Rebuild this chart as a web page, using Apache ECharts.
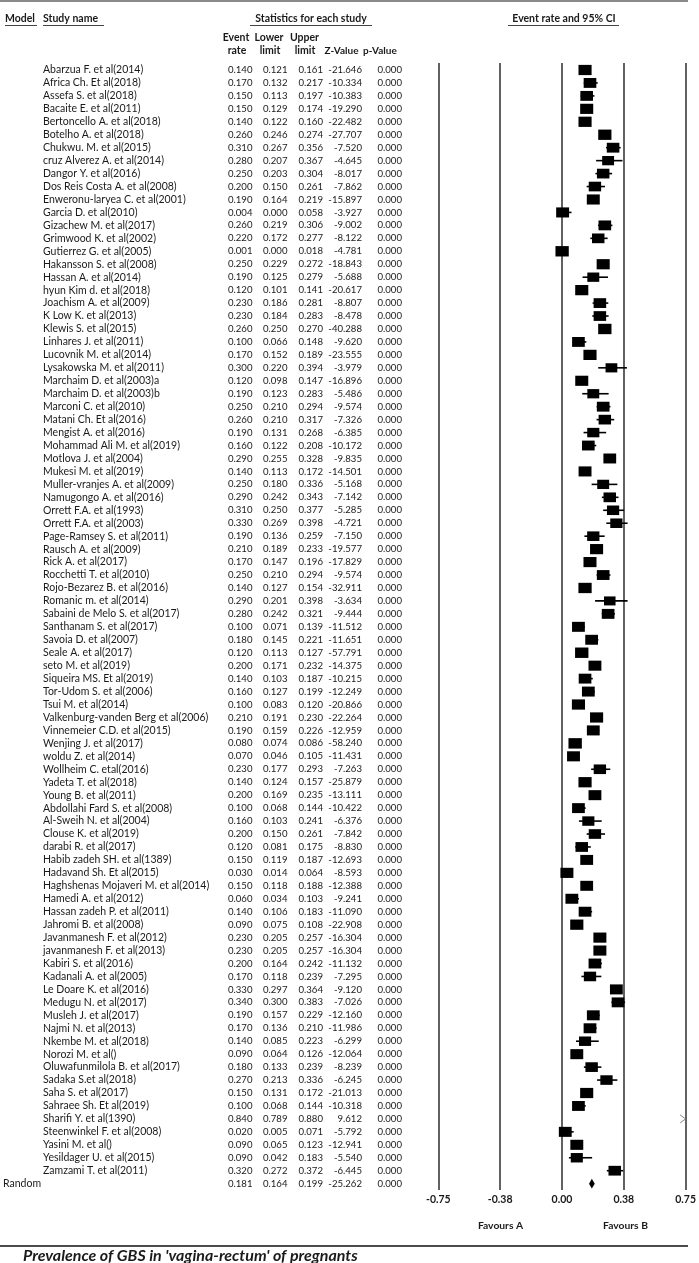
<!DOCTYPE html>
<html>
<head>
<meta charset="utf-8">
<script src="https://cdn.jsdelivr.net/npm/echarts@6/dist/echarts.min.js"></script>
<style>
html,body{margin:0;padding:0;background:#fff;}
#chart{width:699px;height:1263px;}
</style>
</head>
<body>
<div id="chart"></div>
<script>
const studies = [
"Abarzua F. et al(2014)","Africa Ch. Et al(2018)","Assefa S. et al(2018)","Bacaite E. et al(2011)",
"Bertoncello A. et al(2018)","Botelho A. et al(2018)","Chukwu. M. et al(2015)","cruz Alverez A. et al(2014)",
"Dangor Y. et al(2016)","Dos Reis Costa A. et al(2008)","Enweronu-laryea C. et al(2001)","Garcia D. et al(2010)",
"Gizachew M. et al(2017)","Grimwood K. et al(2002)","Gutierrez G. et al(2005)","Hakansson S. et al(2008)",
"Hassan A. et al(2014)","hyun Kim d. et al(2018)","Joachism A. et al(2009)","K Low K. et al(2013)",
"Klewis S. et al(2015)","Linhares J. et al(2011)","Lucovnik M. et al(2014)","Lysakowska M. et al(2011)",
"Marchaim D. et al(2003)a","Marchaim D. et al(2003)b","Marconi C. et al(2010)","Matani Ch. Et al(2016)",
"Mengist A. et al(2016)","Mohammad Ali M. et al(2019)","Motlova J. et al(2004)","Mukesi M. et al(2019)",
"Muller-vranjes A. et al(2009)","Namugongo A. et al(2016)","Orrett F.A. et al(1993)","Orrett F.A. et al(2003)",
"Page-Ramsey S. et al(2011)","Rausch A. et al(2009)","Rick A. et al(2017)","Rocchetti T. et al(2010)",
"Rojo-Bezarez B. et al(2016)","Romanic m. et al(2014)","Sabaini de Melo S. et al(2017)","Santhanam S. et al(2017)",
"Savoia D. et al(2007)","Seale A. et al(2017)","seto M. et al(2019)","Siqueira MS. Et al(2019)",
"Tor-Udom S. et al(2006)","Tsui M. et al(2014)","Valkenburg-vanden Berg et al(2006)","Vinnemeier C.D. et al(2015)",
"Wenjing J. et al(2017)","woldu Z. et al(2014)","Wollheim C. etal(2016)","Yadeta T. et al(2018)",
"Young B. et al(2011)","Abdollahi Fard S. et al(2008)","Al-Sweih N. et al(2004)","Clouse K. et al(2019)",
"darabi R. et al(2017)","Habib zadeh SH. et al(1389)","Hadavand Sh. Et al(2015)","Haghshenas Mojaveri M. et al(2014)",
"Hamedi A. et al(2012)","Hassan zadeh P. et al(2011)","Jahromi B. et al(2008)","Javanmanesh F. et al(2012)",
"javanmanesh F. et al(2013)","Kabiri S. et al(2016)","Kadanali A. et al(2005)","Le Doare K. et al(2016)",
"Medugu N. et al(2017)","Musleh J. et al(2017)","Najmi N. et al(2013)","Nkembe M. et al(2018)",
"Norozi M. et al()","Oluwafunmilola B. et al(2017)","Sadaka S.et al(2018)","Saha S. et al(2017)",
"Sahraee Sh. Et al(2019)","Sharifi Y. et al(1390)","Steenwinkel F. et al(2008)","Yasini M. et al()",
"Yesildager U. et al(2015)","Zamzami T. et al(2011)"
];
const eventRate = [
0.140,0.170,0.150,0.150,0.140,0.260,0.310,0.280,0.250,0.200,0.190,0.004,0.260,0.220,0.001,0.250,
0.190,0.120,0.230,0.230,0.260,0.100,0.170,0.300,0.120,0.190,0.250,0.260,0.190,0.160,0.290,0.140,
0.250,0.290,0.310,0.330,0.190,0.210,0.170,0.250,0.140,0.290,0.280,0.100,0.180,0.120,0.200,0.140,
0.160,0.100,0.210,0.190,0.080,0.070,0.230,0.140,0.200,0.100,0.160,0.200,0.120,0.150,0.030,0.150,
0.060,0.140,0.090,0.230,0.230,0.200,0.170,0.330,0.340,0.190,0.170,0.140,0.090,0.180,0.270,0.150,
0.100,0.840,0.020,0.090,0.090,0.320
];
const lowerLimit = [
0.121,0.132,0.113,0.129,0.122,0.246,0.267,0.207,0.203,0.150,0.164,0.000,0.219,0.172,0.000,0.229,
0.125,0.101,0.186,0.184,0.250,0.066,0.152,0.220,0.098,0.123,0.210,0.210,0.131,0.122,0.255,0.113,
0.180,0.242,0.250,0.269,0.136,0.189,0.147,0.210,0.127,0.201,0.242,0.071,0.145,0.113,0.171,0.103,
0.127,0.083,0.191,0.159,0.074,0.046,0.177,0.124,0.169,0.068,0.103,0.150,0.081,0.119,0.014,0.118,
0.034,0.106,0.075,0.205,0.205,0.164,0.118,0.297,0.300,0.157,0.136,0.085,0.064,0.133,0.213,0.131,
0.068,0.789,0.005,0.065,0.042,0.272
];
const upperLimit = [
0.161,0.217,0.197,0.174,0.160,0.274,0.356,0.367,0.304,0.261,0.219,0.058,0.306,0.277,0.018,0.272,
0.279,0.141,0.281,0.283,0.270,0.148,0.189,0.394,0.147,0.283,0.294,0.317,0.268,0.208,0.328,0.172,
0.336,0.343,0.377,0.398,0.259,0.233,0.196,0.294,0.154,0.398,0.321,0.139,0.221,0.127,0.232,0.187,
0.199,0.120,0.230,0.226,0.086,0.105,0.293,0.157,0.235,0.144,0.241,0.261,0.175,0.187,0.064,0.188,
0.103,0.183,0.108,0.257,0.257,0.242,0.239,0.364,0.383,0.229,0.210,0.223,0.126,0.239,0.336,0.172,
0.144,0.880,0.071,0.123,0.183,0.372
];
const zValue = [
-21.646,-10.334,-10.383,-19.290,-22.482,-27.707,-7.520,-4.645,-8.017,-7.862,-15.897,-3.927,-9.002,-8.122,-4.781,-18.843,
-5.688,-20.617,-8.807,-8.478,-40.288,-9.620,-23.555,-3.979,-16.896,-5.486,-9.574,-7.326,-6.385,-10.172,-9.835,-14.501,
-5.168,-7.142,-5.285,-4.721,-7.150,-19.577,-17.829,-9.574,-32.911,-3.634,-9.444,-11.512,-11.651,-57.791,-14.375,-10.215,
-12.249,-20.866,-22.264,-12.959,-58.240,-11.431,-7.263,-25.879,-13.111,-10.422,-6.376,-7.842,-8.830,-12.693,-8.593,-12.388,
-9.241,-11.090,-22.908,-16.304,-16.304,-11.132,-7.295,-9.120,-7.026,-12.160,-11.986,-6.299,-12.064,-8.239,-6.245,-21.013,
-10.318,9.612,-5.792,-12.941,-5.540,-6.445
];
const pValue = studies.map(() => 0.000); // every study reports p = 0.000
const pooledLabel = "Random";
const pooledRate = 0.181, pooledLower = 0.164, pooledUpper = 0.199, pooledZ = -25.262, pooledP = 0.000;
const xTickLabels = ["-0.75","-0.38","0.00","0.38","0.75"];

const FONT = 'Lato, "Liberation Sans", sans-serif';
const TXT = '#1a1a1a';
const TFS = '10.5px ';
const NFS = '9.6px ';

const chart = echarts.init(document.getElementById('chart'), null, {renderer: 'canvas'});

const tableRows = studies.map((s, i) => [i, s, eventRate[i], lowerLimit[i], upperLimit[i], zValue[i], pValue[i]]);
tableRows.push([studies.length, pooledLabel, pooledRate, pooledLower, pooledUpper, pooledZ, pooledP]);

const XMIN = -0.75, XMAX = 0.75;
const hdr = (text, x, y, align, fs) => ({type: 'text', style: {text, x, y, textAlign: align || 'center', textVerticalAlign: 'middle', font: 'bold ' + (fs || TFS) + FONT, fill: TXT}});

const option = {
  animation: false,
  backgroundColor: '#fff',
  grid: [
    {left: 438.3, width: 250.4, top: 63, height: 1127},
    {left: 0, width: 699, top: 63, height: 1127}
  ],
  xAxis: [
    {gridIndex: 0, type: 'value', min: XMIN, max: XMAX, interval: 0.375,
     axisLine: {show: false}, axisTick: {show: false},
     splitLine: {show: true, showMinLine: true, showMaxLine: true, lineStyle: {color: '#3a3a3a', width: 1.6}},
     axisLabel: {margin: 4, fontFamily: FONT, fontSize: 10.5, fontWeight: 'bold', color: TXT,
       formatter: v => { const idx = Math.round((v - XMIN) / 0.375); return xTickLabels[idx]; }}},
    {gridIndex: 1, type: 'value', min: 0, max: 699, show: false}
  ],
  yAxis: [
    {gridIndex: 0, type: 'value', min: -0.54, max: 86.49, inverse: true, show: false},
    {gridIndex: 1, type: 'value', min: -0.54, max: 86.49, inverse: true, show: false}
  ],
  series: [
    {
      type: 'custom', xAxisIndex: 0, yAxisIndex: 0, clip: false,
      data: studies.map((s, i) => [eventRate[i], i, lowerLimit[i], upperLimit[i]]),
      encode: {x: 0, y: 1},
      renderItem: (params, api) => {
        const r = api.value(0), i = api.value(1), lo = api.value(2), hi = api.value(3);
        const y = api.coord([0, i])[1];
        const children = [];
        if (r > XMAX) {
          const tip = api.coord([XMAX, i]);
          children.push({type: 'polyline', shape: {points: [[tip[0] - 5.5, y - 4], [tip[0], y], [tip[0] - 5.5, y + 4]]},
            style: {stroke: '#777', lineWidth: 0.9, fill: null}});
          return {type: 'group', children};
        }
        const loC = api.coord([Math.max(lo, XMIN), i])[0];
        const hiC = api.coord([Math.min(hi, XMAX), i])[0];
        children.push({type: 'line', shape: {x1: loC, y1: y, x2: hiC, y2: y}, style: {stroke: '#000', lineWidth: 1.6}});
        const cx = api.coord([r, i])[0];
        const w = Math.max(11.5, 13.5 - 10 * (hi - lo));
        const h = w * 0.78;
        children.push({type: 'rect', shape: {x: cx - w / 2, y: y - h / 2, width: w, height: h}, style: {fill: '#000'}});
        return {type: 'group', children};
      }
    },
    {
      type: 'custom', xAxisIndex: 0, yAxisIndex: 0, clip: false,
      data: [[pooledRate, studies.length, pooledLower, pooledUpper]],
      encode: {x: 0, y: 1},
      renderItem: (params, api) => {
        const r = api.value(0), i = api.value(1), lo = api.value(2), hi = api.value(3);
        const c = api.coord([r, i]);
        const l = api.coord([lo, i])[0], u = api.coord([hi, i])[0];
        return {type: 'polygon', shape: {points: [[l, c[1]], [c[0], c[1] - 4.8], [u, c[1]], [c[0], c[1] + 4.8]]}, style: {fill: '#000'}};
      }
    },
    {
      type: 'custom', xAxisIndex: 1, yAxisIndex: 1, clip: false,
      data: tableRows.map(r => [0, r[0]]),
      encode: {x: 0, y: 1},
      renderItem: (params, api) => {
        const row = tableRows[params.dataIndex];
        const y = api.coord([0, row[0]])[1];
        const isPooled = row[0] === studies.length;
        const st = (text, x, align, fs) => ({type: 'text', style: {text, x, y, textAlign: align, textVerticalAlign: 'middle',
          font: fs + FONT, fill: TXT}});
        return {type: 'group', children: [
          st(row[1], isPooled ? 3 : 43, 'left', TFS),
          st(row[2].toFixed(3), 252.5, 'right', NFS),
          st(row[3].toFixed(3), 287.5, 'right', NFS),
          st(row[4].toFixed(3), 323, 'right', NFS),
          st(row[5].toFixed(3), 362, 'right', NFS),
          st(row[6].toFixed(3), 402, 'right', NFS)
        ]};
      }
    }
  ],
  graphic: [
    {type: 'line', shape: {x1: 0, y1: 1, x2: 688, y2: 1}, style: {stroke: '#8a8a8a', lineWidth: 2}},
    hdr('Model', 5, 19, 'left'),
    {type: 'line', shape: {x1: 5, y1: 25.5, x2: 37, y2: 25.5}, style: {stroke: '#444', lineWidth: 1}},
    hdr('Study name', 43, 19, 'left'),
    {type: 'line', shape: {x1: 43, y1: 25.5, x2: 104, y2: 25.5}, style: {stroke: '#444', lineWidth: 1}},
    hdr('Statistics for each study', 311, 19),
    {type: 'line', shape: {x1: 250, y1: 25.5, x2: 372, y2: 25.5}, style: {stroke: '#444', lineWidth: 1}},
    hdr('Event rate and 95% CI', 564, 19),
    {type: 'line', shape: {x1: 508, y1: 25.5, x2: 619, y2: 25.5}, style: {stroke: '#444', lineWidth: 1}},
    hdr('Event', 236, 38), hdr('rate', 237, 51),
    hdr('Lower', 269, 38), hdr('limit', 270, 51),
    hdr('Upper', 304.5, 38), hdr('limit', 305, 51),
    hdr('Z-Value', 341.5, 51, 'center', '10px '),
    hdr('p-Value', 363, 51, 'left', '10px '),
    {type: 'text', style: {text: 'Favours A', x: 500.5, y: 1226, textAlign: 'center', textVerticalAlign: 'middle', font: 'bold 10.3px ' + FONT, fill: TXT}},
    {type: 'text', style: {text: 'Favours B', x: 625.5, y: 1226, textAlign: 'center', textVerticalAlign: 'middle', font: 'bold 10.3px ' + FONT, fill: TXT}},
    {type: 'line', shape: {x1: 0, y1: 1246, x2: 688, y2: 1246}, style: {stroke: '#111', lineWidth: 1.6}},
    {type: 'text', style: {text: "Prevalence of GBS in 'vagina-rectum' of pregnants", x: 23, y: 1255.5, textVerticalAlign: 'middle', font: 'italic bold 16px ' + FONT, fill: TXT}}
  ]
};
chart.setOption(option);
</script>
</body>
</html>
